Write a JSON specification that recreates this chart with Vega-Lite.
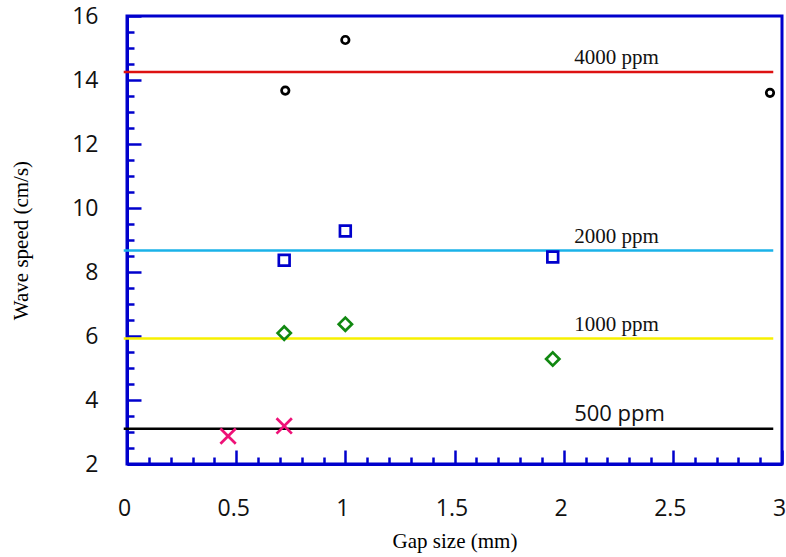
{
  "$schema": "https://vega.github.io/schema/vega-lite/v6.json",
  "width": 655,
  "height": 448,
  "autosize": {"type": "none"},
  "padding": {"left": 127, "top": 16, "right": 4, "bottom": 93},
  "background": "white",
  "config": {
    "view": {"stroke": "#0000cc", "strokeWidth": 3},
    "axis": {"grid": false, "domainColor": "#0000cc", "domainWidth": 3, "tickColor": "#0000cc", "tickWidth": 2.5,
      "labelFont": "Open Sans", "labelFontSize": 23, "labelColor": "#111111",
      "titleFont": "Liberation Serif", "titleFontSize": 21, "titleFontWeight": "normal", "titleColor": "#000000"}
  },
  "datasets": {
    "lines": [
      {"series": "4000 ppm", "gap": -0.015, "speed": 14.25},
      {"series": "4000 ppm", "gap": 2.96, "speed": 14.25},
      {"series": "2000 ppm", "gap": -0.015, "speed": 8.67},
      {"series": "2000 ppm", "gap": 2.96, "speed": 8.67},
      {"series": "1000 ppm", "gap": -0.015, "speed": 5.92},
      {"series": "1000 ppm", "gap": 2.96, "speed": 5.92},
      {"series": "500 ppm", "gap": -0.015, "speed": 3.1},
      {"series": "500 ppm", "gap": 2.96, "speed": 3.1}
    ],
    "points": [
      {"series": "4000 ppm", "gap": 0.725, "speed": 13.67},
      {"series": "4000 ppm", "gap": 1.0, "speed": 15.25},
      {"series": "4000 ppm", "gap": 2.945, "speed": 13.6},
      {"series": "2000 ppm", "gap": 0.72, "speed": 8.37},
      {"series": "2000 ppm", "gap": 1.0, "speed": 9.28},
      {"series": "2000 ppm", "gap": 1.95, "speed": 8.47},
      {"series": "1000 ppm", "gap": 0.72, "speed": 6.09},
      {"series": "1000 ppm", "gap": 1.0, "speed": 6.37},
      {"series": "1000 ppm", "gap": 1.95, "speed": 5.28},
      {"series": "500 ppm", "gap": 0.463, "speed": 2.87},
      {"series": "500 ppm", "gap": 0.72, "speed": 3.19}
    ],
    "labels": [
      {"label": "4000 ppm", "gap": 2.048, "speed": 14.25},
      {"label": "2000 ppm", "gap": 2.048, "speed": 8.67},
      {"label": "1000 ppm", "gap": 2.048, "speed": 5.92},
      {"label": "500 ppm", "gap": 2.048, "speed": 3.1}
    ]
  },
  "layer": [
    {
      "data": {"name": "lines"},
      "mark": {"type": "line", "strokeWidth": 2.5, "clip": false},
      "encoding": {
        "x": {"field": "gap", "type": "quantitative",
          "scale": {"domain": [0, 3], "nice": false, "zero": false},
          "axis": {"title": "Gap size (mm)", "tickCount": 100,
            "values": [0,0.1,0.2,0.3,0.4,0.5,0.6,0.7,0.8,0.9,1,1.1,1.2,1.3,1.4,1.5,1.6,1.7,1.8,1.9,2,2.1,2.2,2.3,2.4,2.5,2.6,2.7,2.8,2.9,3],
            "tickSize": {"condition": {"test": "abs(datum.value*2 - round(datum.value*2)) < 0.001", "value": -14}, "value": -7},
            "labelExpr": "abs(datum.value*2 - round(datum.value*2)) < 0.001 ? format(datum.value, '~g') : ''",
            "labelPadding": 47, "labelOffset": -3, "titlePadding": 3, "labelFlush": false, "labelOverlap": false}},
        "y": {"field": "speed", "type": "quantitative",
          "scale": {"domain": [2, 16], "nice": false, "zero": false},
          "axis": {"title": "Wave speed (cm/s)", "tickCount": 100,
            "values": [2,2.5,3,3.5,4,4.5,5,5.5,6,6.5,7,7.5,8,8.5,9,9.5,10,10.5,11,11.5,12,12.5,13,13.5,14,14.5,15,15.5,16],
            "tickSize": {"condition": {"test": "datum.value % 2 === 0", "value": -14}, "value": -7},
            "labelExpr": "datum.value % 2 === 0 ? format(datum.value, '~g') : ''",
            "labelPadding": 43, "titlePadding": 40, "labelFlush": false, "labelOverlap": false}},
        "color": {"field": "series", "type": "nominal", "legend": null,
          "scale": {"domain": ["4000 ppm", "2000 ppm", "1000 ppm", "500 ppm"], "range": ["#dd1111", "#1ab2e8", "#f7f000", "#000000"]}},
        "detail": {"field": "series"}
      }
    },
    {
      "data": {"name": "points"},
      "mark": {"type": "point", "filled": false, "strokeWidth": 2.7, "opacity": 1},
      "encoding": {
        "x": {"field": "gap", "type": "quantitative"},
        "y": {"field": "speed", "type": "quantitative"},
        "shape": {"field": "series", "type": "nominal", "legend": null,
          "scale": {"domain": ["4000 ppm", "2000 ppm", "1000 ppm", "500 ppm"], "range": ["circle", "square", "diamond", "M-1,-1L1,1M-1,1L1,-1"]}},
        "size": {"field": "series", "type": "nominal", "legend": null,
          "scale": {"domain": ["4000 ppm", "2000 ppm", "1000 ppm", "500 ppm"], "range": [56, 235, 45, 60]}},
        "color": {"field": "series", "type": "nominal", "legend": null,
          "scale": {"domain": ["4000 ppm", "2000 ppm", "1000 ppm", "500 ppm"], "range": ["#000000", "#0000cc", "#118811", "#ee1177"]}}
      }
    },
    {
      "data": {"name": "labels"},
      "transform": [{"filter": "datum.label !== '500 ppm'"}],
      "mark": {"type": "text", "align": "left", "baseline": "alphabetic", "dy": -8, "font": "Liberation Serif", "fontSize": 21, "color": "#111111"},
      "encoding": {
        "x": {"field": "gap", "type": "quantitative"},
        "y": {"field": "speed", "type": "quantitative"},
        "text": {"field": "label"}
      }
    },
    {
      "data": {"name": "labels"},
      "transform": [{"filter": "datum.label === '500 ppm'"}],
      "mark": {"type": "text", "align": "left", "baseline": "alphabetic", "dy": -8, "font": "Open Sans", "fontSize": 22, "color": "#111111"},
      "encoding": {
        "x": {"field": "gap", "type": "quantitative"},
        "y": {"field": "speed", "type": "quantitative"},
        "text": {"field": "label"}
      }
    }
  ],
  "resolve": {"scale": {"color": "independent"}}
}
